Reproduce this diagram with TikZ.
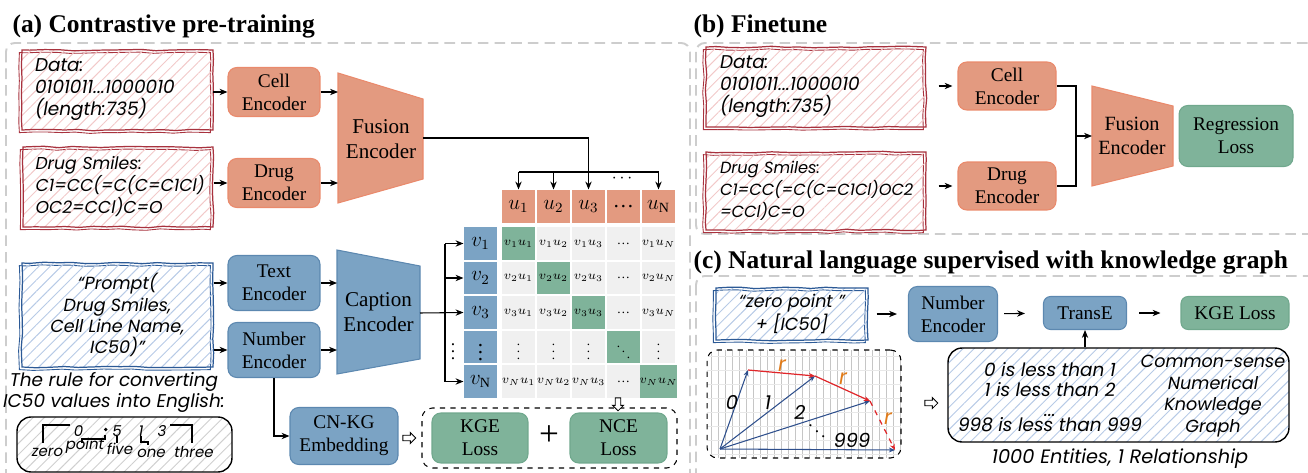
\documentclass[tikz,border=0pt]{standalone}
\usepackage{fontspec}
\setmainfont{Liberation Serif}
\newfontfamily\handfont{Poppins}
\usetikzlibrary{arrows.meta,patterns.meta,decorations.pathmorphing,shapes.arrows,fit}

\definecolor{salmon}{HTML}{E39A80}
\definecolor{salmonline}{HTML}{EA8A6C}
\definecolor{steel}{HTML}{7BA3C4}
\definecolor{steelline}{HTML}{5C88B0}
\definecolor{sage}{HTML}{7FB39A}
\definecolor{sageline}{HTML}{70A88D}
\definecolor{cellgray}{HTML}{F0F0F0}
\definecolor{panelgray}{HTML}{CDCDCD}
\definecolor{wine}{HTML}{A8323E}
\definecolor{pinkhatch}{HTML}{F2C9C9}
\definecolor{navy}{HTML}{2C5A96}
\definecolor{bluehatch}{HTML}{B7CAE6}
\definecolor{grayhatch}{HTML}{CFCFCF}
\definecolor{vecblue}{HTML}{2E4F8C}
\definecolor{vecred}{HTML}{E0262A}
\definecolor{rorange}{HTML}{E07B1A}

\tikzset{
  title/.style={font=\fontsize{14.5}{16}\selectfont\bfseries, inner sep=0pt},
  panel/.style={draw=panelgray, line width=1.1pt, dash pattern=on 6pt off 3.5pt, rounded corners=5pt},
  enc/.style={rectangle, rounded corners=5pt, align=center, line width=0.6pt, font=\fontsize{11}{13}\selectfont, inner sep=1pt},
  redenc/.style={enc, fill=salmon, draw=salmonline},
  blueenc/.style={enc, fill=steel, draw=steelline},
  greenenc/.style={enc, fill=sage, draw=sageline},
  redtrap/.style={fill=salmon, draw=salmonline, line width=0.6pt},
  bluetrap/.style={fill=steel, draw=steelline, line width=0.6pt},
  traptext/.style={align=center, font=\fontsize{12}{14}\selectfont},
  hand/.style={font=\handfont\itshape\fontsize{10.5}{12.5}\selectfont},
  small hand/.style={font=\handfont\itshape\fontsize{8.5}{10}\selectfont},
  smiles/.style={font=\handfont\itshape\fontsize{#1}{12.5}\selectfont},
  hatch/.style={pattern={Lines[angle=45,distance=4.5pt,line width=0.55pt]}, pattern color=#1},
  sketch/.style={draw=#1, line width=0.7pt, decorate,
    decoration={random steps, segment length=8pt, amplitude=0.45pt},
    preaction={draw=#1, line width=0.5pt, transform canvas={shift={(-1.5pt,-1.5pt)}}}},
  redbox/.style={sketch=wine, hatch=pinkhatch, hand, align=left, inner sep=0pt},
  bluebox/.style={sketch=navy, hatch=bluehatch, hand, align=center, inner sep=0pt},
  roundbox/.style={draw=black, line width=0.8pt, rounded corners=8pt, hatch=#1},
  ucell/.style={fill=salmon, minimum size=0.66cm, inner sep=0pt, font=\fontsize{12}{14}\selectfont},
  vcell/.style={fill=steel, minimum size=0.66cm, inner sep=0pt, font=\fontsize{12}{14}\selectfont},
  cell/.style={minimum size=0.66cm, inner sep=0pt, font=\fontsize{7.5}{9}\selectfont},
  hollow/.style={single arrow, draw=black, fill=white, line width=0.5pt, inner sep=1.3pt,
    minimum height=0.26cm, single arrow head extend=1.6pt},
  lossgroup/.style={draw=black, dashed, rounded corners=6pt, line width=0.6pt, inner xsep=0.19cm, inner ysep=0.09cm},
  vec/.style={draw=vecblue, line width=0.6pt, -{Stealth[length=3.5pt,width=2.8pt]}},
  rvec/.style={draw=vecred, line width=0.7pt, -{Stealth[length=3.5pt,width=2.8pt]}},
}

\begin{document}
\begin{tikzpicture}[x=0.02cm, y=-0.02cm, >={Stealth[length=4.5pt,width=3.6pt]}, line width=0.6pt]
\useasboundingbox (0,0) rectangle (1308,473);

% panels and titles
\draw[panel] (6,43) rectangle (690,495);
\draw[panel] (696,43) rectangle (1330,234);
\draw[panel] (696,276) rectangle (1330,495);
\node[title, anchor=base west] (titleA) at (12,33) {(a) Contrastive pre-training};
\node[title, anchor=base west] (titleB) at (693,33) {(b) Finetune};
\node[title, anchor=base west] (titleC) at (693,268) {(c) Natural language supervised with knowledge graph};

% (a) cell / drug branch
\node[redbox, minimum width=3.82cm, minimum height=1.6cm, text width=3.3cm] (dataA) at (117.5,90)
  {Data:\\0101011...1000010\\(length:735)};
\node[redbox, smiles=9.8, minimum width=3.8cm, minimum height=1.6cm, text width=3.3cm] (drugA) at (118,187)
  {Drug Smiles:\\C1=CC(=C(C=C1Cl)\\OC2=CCl)C=O};
\node[redenc, minimum width=1.84cm, minimum height=0.98cm] (cellA) at (274,92) {Cell\\Encoder};
\node[redenc, minimum width=1.84cm, minimum height=0.98cm] (drugEncA) at (274,183) {Drug\\Encoder};
\draw[redtrap] (338,73) -- (423,99) -- (423,179) -- (338,203) -- cycle;
\node[traptext] (fusA) at (381,139) {Fusion\\Encoder};
\coordinate (fusAw) at (338,138);
\coordinate (fusAout) at (423,138);
\draw[->] (dataA.east |- cellA) -- (cellA.west);
\draw[->] (drugA.east |- drugEncA) -- (drugEncA.west);
\draw[->] (cellA) -- (cellA -| fusAw);
\draw[->] (drugEncA) -- (drugEncA -| fusAw);

% (a) text / number branch
\node[bluebox, minimum width=3.82cm, minimum height=2.08cm, font=\handfont\itshape\fontsize{10}{12}\selectfont] (promptA) at (117.5,315)
  {“Prompt(\\Drug Smiles,\\Cell Line Name,\\IC50)”};
\node[blueenc, minimum width=1.84cm, minimum height=1.1cm] (textA) at (274,283) {Text\\Encoder};
\node[blueenc, minimum width=1.84cm, minimum height=1.1cm] (numA) at (274,350) {Number\\Encoder};
\draw[bluetrap] (337,250) -- (420,266) -- (420,359) -- (337,374) -- cycle;
\node[traptext] (capA) at (378.5,312) {Caption\\Encoder};
\coordinate (capAw) at (337,312);
\coordinate (capAout) at (420,313);
\draw[->] (promptA.east |- textA) -- (textA.west);
\draw[->] (promptA.east |- numA) -- (numA.west);
\draw[->] (textA) -- (textA -| capAw);
\draw[->] (numA) -- (numA -| capAw);

% similarity matrix
\foreach \lab [count=\i] in {{$u_1$},{$u_2$},{$u_3$},{\dots},{$u_{\mathrm{N}}$}}
  \node[ucell] (u\i) at (483.5+35*\i,206.5) {\lab};
\foreach \lab [count=\j] in {{$v_1$},{$v_2$},{$v_3$},{$\vdots$},{$v_{\mathrm{N}}$}}
  \node[vcell] (v\j) at (480.5,209+34.5*\j) {\lab};
\foreach \r [count=\j] in {1,2,3,x,N}
  \foreach \c [count=\i] in {1,2,3,x,N}{
    \ifnum\i=\j \def\cellfill{sage}\else\def\cellfill{cellgray}\fi
    \node[cell, fill=\cellfill] (c\j\i) at (483.5+35*\i,209+34.5*\j)
      {\ifnum\i=4 \ifnum\j=4 $\ddots$\else\dots\fi\else\ifnum\j=4 $\vdots$\else$v_{\r}u_{\c}$\fi\fi};
  }
\coordinate (branchU) at (588.5,172);
\coordinate (branchV) at (445,313);
\draw (fusAout) -| (branchU);
\draw (u1.north |- branchU) -- (u5.north |- branchU);
\foreach \i in {1,2,3,5}
  \draw[->] (u\i.north |- branchU) -- (u\i.north);
\node (udots) at (622,179) {$\cdots$};
\draw[->] (capAout) -- (v3.west);
\draw (v1.west -| branchV) -- (v5.west -| branchV);
\foreach \j in {1,2,5}
  \draw[->] (v\j.west -| branchV) -- (v\j.west);
\node (vdots) at (453,346) {$\vdots$};

% losses
\node[blueenc, minimum width=2.16cm, minimum height=1.14cm] (cnkg) at (344,436) {CN-KG\\Embedding};
\draw[->] (numA.south) |- (cnkg.west);
\node[greenenc, minimum width=1.92cm, minimum height=1cm] (kgeA) at (480,438) {KGE\\Loss};
\node[greenenc, minimum width=1.94cm, minimum height=1cm] (nceA) at (618.5,438) {NCE\\Loss};
\node[lossgroup, fit=(kgeA)(nceA)] (losses) {};
\node[font=\fontsize{20}{20}\selectfont] (plus) at (549,436) {+};
\node[hollow] (toLoss) at (408,438) {};
\node[hollow, shape border rotate=270] (toNce) at (618,403) {};

% IC50 rule
\node[hand, align=center, font=\handfont\itshape\fontsize{10.5}{12}\selectfont] (ruleText) at (114,392)
  {The rule for converting\\IC50 values into English:};
\node[roundbox=grayhatch, minimum width=4.3cm, minimum height=1.1cm] (rule) at (124.5,444.5) {};
\node[small hand] (d0) at (78.5,431) {0};
\fill (105.7,429.5) circle (1.1pt);
\node[small hand] (d5) at (117,431) {5};
\node[small hand] (d1) at (141,431) {1};
\node[small hand] (d3) at (162,431) {3};
\node[small hand] (wzero) at (47.5,452) {zero};
\node[small hand] (wpoint) at (85,446) {point};
\node[small hand] (wfive) at (120,449) {five};
\node[small hand] (wone) at (151.5,453) {one};
\node[small hand] (wthree) at (194,452) {three};
\draw (43,443) -- (43,425) -- (70,425);
\draw (82,443) -- (82,439) -- (105,439) -- (105,435);
\draw (117,436) -- (117,443);
\draw (141,436) -- (141,442) -- (148,442) -- (148,445);
\draw (170,425) -- (192,425) -- (192,443);

% (b) finetune
\node[redbox, minimum width=4.4cm, minimum height=1.6cm, text width=3.84cm] (dataB) at (816,87)
  {Data:\\0101011...1000010\\(length:735)};
\node[redbox, smiles=9.2, minimum width=4.4cm, minimum height=1.56cm, text width=3.84cm] (drugB) at (816,191)
  {Drug Smiles:\\C1=CC(=C(C=C1Cl)OC2\\=CCl)C=O};
\node[redenc, minimum width=1.96cm, minimum height=0.96cm] (cellB) at (1007,86) {Cell\\Encoder};
\node[redenc, minimum width=1.96cm, minimum height=0.96cm] (drugEncB) at (1007,186) {Drug\\Encoder};
\draw[redtrap] (1092,86) -- (1173,106) -- (1173,166) -- (1092,186) -- cycle;
\node[traptext, font=\fontsize{11.5}{13.5}\selectfont] (fusB) at (1132,136) {Fusion\\Encoder};
\node[greenenc, minimum width=2.28cm, minimum height=1.22cm] (regB) at (1236,136) {Regression\\Loss};
\coordinate (joinB) at (1076,136);
\coordinate (fusBw) at (1092,136);
\draw[->, shorten <=0.24cm, shorten >=0.1cm] (dataB.east |- cellB) -- (cellB.west);
\draw[->, shorten <=0.24cm, shorten >=0.1cm] (drugB.east |- drugEncB) -- (drugEncB.west);
\draw (cellB.east) -| (joinB) |- (drugEncB.east);
\draw[->] (joinB) -- (fusBw);

% (c) knowledge graph
\node[bluebox, minimum width=3.04cm, minimum height=1.04cm, font=\handfont\itshape\fontsize{10}{12}\selectfont] (zp) at (792,314)
  {“zero point ”\\+ [IC50]};
\node[blueenc, minimum width=1.78cm, minimum height=1.1cm] (numC) at (953,314) {Number\\Encoder};
\node[blueenc, minimum width=1.66cm, minimum height=0.66cm, rounded corners=4pt] (transE) at (1085,313) {TransE};
\node[greenenc, minimum width=2.16cm, minimum height=0.66cm, rounded corners=4pt] (kgeC) at (1235,313) {KGE Loss};
\draw[->, shorten <=0.16cm, shorten >=0.22cm] (zp) -- (numC);
\draw[->, shorten <=0.12cm, shorten >=0.36cm] (numC) -- (transE);
\draw[->, shorten <=0.24cm, shorten >=0.4cm] (transE) -- (kgeC);

\begin{scope}
  \clip[rounded corners=6pt] (707,350) rectangle (901,458);
  \foreach \x in {711,718,...,901} \draw[gray!45, line width=0.4pt] (\x,350) -- (\x,458);
  \foreach \y in {356,370,...,458} \draw[gray!18, line width=0.4pt] (707,\y) -- (901,\y);
\end{scope}
\node[draw=black, dashed, rounded corners=6pt, line width=0.6pt, minimum width=3.88cm, minimum height=2.16cm] (vecbox) at (804,404) {};
\coordinate (O) at (720,449);
\coordinate (e0) at (748,370);
\coordinate (e1) at (815,376);
\coordinate (e2) at (870,401);
\coordinate (e999) at (895,450);
\foreach \e in {e0,e1,e2,e999} \draw[vec] (O) -- (\e);
\draw[rvec] (e0) -- (e1);
\draw[rvec] (e1) -- (e2);
\draw[rvec, dashed] (e2) -- (e999);
\node[hand, font=\handfont\itshape\fontsize{11}{12}\selectfont] (l0) at (732,402) {0};
\node[hand, font=\handfont\itshape\fontsize{11}{12}\selectfont] (l1) at (768,403) {1};
\node[hand, font=\handfont\itshape\fontsize{11}{12}\selectfont] (l2) at (800,412) {2};
\node[hand, font=\handfont\itshape\fontsize{11}{12}\selectfont] (l999) at (852,440) {999};
\node (ldots) at (817,426) {$\ddots$};
\node[hand, text=rorange, font=\handfont\itshape\fontsize{12}{12}\selectfont] (r1) at (782,366) {r};
\node[hand, text=rorange, font=\handfont\itshape\fontsize{12}{12}\selectfont] (r2) at (843,379) {r};
\node[hand, text=rorange, font=\handfont\itshape\fontsize{12}{12}\selectfont] (r3) at (888,419) {r};
\node[hollow] (toKg) at (930,403) {};

\node[roundbox=bluehatch, minimum width=6.82cm, minimum height=1.88cm] (kg) at (1118.5,395) {};
\node[hand, align=center, font=\handfont\itshape\fontsize{10.5}{11.5}\selectfont] (kgl) at (1050,397)
  {0 is less than 1\\1 is less than 2\\...\\[-3pt]998 is less than 999};
\node[hand, align=center, font=\handfont\itshape\fontsize{10}{12.2}\selectfont] (kgr) at (1213,396)
  {Common-sense\\Numerical\\Knowledge\\Graph};
\draw[->] (transE.south |- kg.north) -- (transE.south);
\node[hand, font=\handfont\itshape\fontsize{11}{12}\selectfont] (kgcount) at (1120,459) {1000 Entities, 1 Relationship};
\end{tikzpicture}
\end{document}
